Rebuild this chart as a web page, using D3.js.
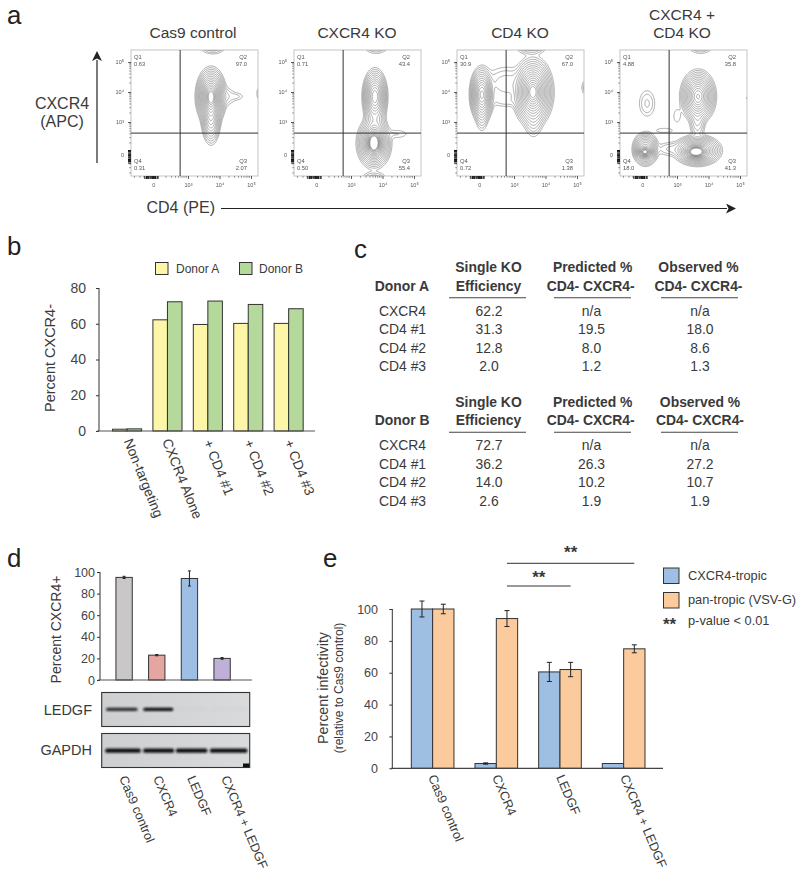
<!DOCTYPE html>
<html><head><meta charset="utf-8">
<script src="https://cdn.jsdelivr.net/npm/d3@7"></script>
<style>
html,body{margin:0;padding:0;background:#fff}
svg{display:block;font-family:"Liberation Sans",Arial,sans-serif}
text{fill:#3a3a3a}
.domain{display:none}
</style></head><body>
<svg id="c" width="800" height="877"></svg>
<script>
// ---------- Panel a: flow cytometry (positions in log-decade display units) ----------
const flowTitles = [["Cas9 control"], ["CXCR4 KO"], ["CD4 KO"], ["CXCR4 +", "CD4 KO"]];
const flowQ1 = ["0.63", "0.71", "30.9", "4.88"];
const flowQ2 = ["97.0", "43.4", "67.0", "35.8"];
const flowQ3 = ["2.07", "55.4", "1.38", "41.3"];
const flowQ4 = ["0.31", "0.50", "0.72", "18.0"];
const flowTickU = [1.9, 3, 4, 5];
const flowTickLabels = ["0", "10³", "10⁴", "10⁵"];
const gateU = [2.75, 2.63];
const rugU = [1.63, 1.68, 1.72, 1.75, 1.8, 1.83, 1.87, 1.9, 1.93, 1.97, 2.02, 2.05];
// each population: [x, y, spreadX, spreadY, height]
const popsCas9 = [[3.73,3.85,.15,.3,1],[3.73,3.2,.11,.33,.25],[4.15,3.85,.2,.17,.012],[4.55,3.85,.14,.08,.006],[3.79,5.5,.2,.12,.02],[5.27,3.95,.06,.15,.008]];
const popsCxcr4 = [[3.73,2.3,.11,.2,1],[3.73,2.3,.18,.28,.5],[3.76,3.85,.13,.3,.55],[3.76,3.0,.14,.3,.06],[4.45,2.6,.25,.1,.006],[3.73,1.15,.2,.1,.015],[3.8,5.5,.2,.12,.015]];
const popsCd4 = [[1.98,3.92,.125,.3,.6],[1.98,3.4,.09,.3,.04],[3.6,4.0,.2,.36,1],[3.62,3.2,.13,.3,.04],[2.75,4.28,.36,.3,.016],[2.75,3.7,.32,.12,.007],[3.55,5.5,.22,.12,.03],[2.1,5.52,.1,.08,.006],[5.25,4.15,.07,.15,.008]];
const popsDouble = [[3.6,2.0,.16,.1,1],[3.65,2.05,.25,.17,.5],[3.67,3.85,.18,.28,.7],[3.65,3.1,.11,.3,.04],[1.98,2.0,.1,.08,.75],[2.0,2.1,.14,.19,.35],[2.05,3.62,.147,.256,.012],[2.8,2.1,.25,.13,.012],[2.6,2.72,.25,.07,.005],[3.75,5.5,.2,.12,.015],[5.25,3.8,.03,.05,.008],[3.0,3.2,.1,.2,.005]];
const flowPops = [popsCas9, popsCxcr4, popsCd4, popsDouble];

// ---------- Panel b ----------
const bCats = ["Non-targeting", "CXCR4 Alone", "+ CD4 #1", "+ CD4 #2", "+ CD4 #3"];
const bDonorA = [1, 62.2, 59.6, 60.2, 60.2];
const bDonorB = [1.2, 72.3, 72.7, 70.8, 68.4];
const bTicks = [0, 20, 40, 60, 80];

// ---------- Panel c ----------
const cRowNames = ["CXCR4", "CD4 #1", "CD4 #2", "CD4 #3"];
const cAKo = ["62.2", "31.3", "12.8", "2.0"];
const cAPred = ["n/a", "19.5", "8.0", "1.2"];
const cAObs = ["n/a", "18.0", "8.6", "1.3"];
const cBKo = ["72.7", "36.2", "14.0", "2.6"];
const cBPred = ["n/a", "26.3", "10.2", "1.9"];
const cBObs = ["n/a", "27.2", "10.7", "1.9"];

// ---------- Panel d ----------
const dCats = ["Cas9 control", "CXCR4", "LEDGF", "CXCR4 + LEDGF"];
const dVals = [95, 23, 94, 20];
const dErr = [1, 0.6, 7, 0.8];
const dTicks = [0, 20, 40, 60, 80, 100];
const ledgfBand = [0.85, 1, 0.02, 0.02];
const gapdhBand = [1, 1, 1, 1];

// ---------- Panel e ----------
const eCats = ["Cas9 control", "CXCR4", "LEDGF", "CXCR4 + LEDGF"];
const eBlue = [100, 3, 60.5, 3];
const eOrange = [100, 94, 62, 75];
const eBlueErr = [5, 0.4, 6, 0];
const eOrangeErr = [3, 5, 4.5, 2.5];
const eTicks = [0, 20, 40, 60, 80, 100];

const svg = d3.select("#c");
const defs = svg.append("defs");
defs.append("filter").attr("id","soft").append("feGaussianBlur").attr("stdDeviation",0.3);
defs.append("filter").attr("id","bandBlur").attr("x","-10%").attr("y","-100%").attr("width","120%").attr("height","300%").append("feGaussianBlur").attr("stdDeviation",0.8);
const blotGrad = defs.append("linearGradient").attr("id","blot").attr("x1",0).attr("x2",1);
blotGrad.append("stop").attr("offset",0).attr("stop-color","#cdcfd1");
blotGrad.append("stop").attr("offset",1).attr("stop-color","#d9dadc");
const mk = defs.append("marker").attr("id","head").attr("viewBox","0 0 10 10").attr("refX",1).attr("refY",5)
  .attr("markerWidth",10).attr("markerHeight",10).attr("markerUnits","userSpaceOnUse").attr("orient","auto");
mk.append("path").attr("d","M0,0L10,5L0,10L2.5,5Z").attr("fill","#222");

function label(t,x,y,size,o={}){
  const e=svg.append("text").attr("x",x).attr("y",y).attr("font-size",size).text(t)
    .attr("text-anchor",o.anchor||"start");
  if(o.bold) e.attr("font-weight","bold");
  if(o.rot!==undefined) e.attr("transform",`rotate(${o.rot} ${x} ${y})`);
  if(o.fill) e.style("fill",o.fill);
  return e;
}
// panel letters
[["a",7,23.5],["b",7,255],["c",354,258],["d",7,567],["e",323,567]].forEach(d=>label(d[0],d[1],d[2],25.8,{fill:"#222"}));

// ---------- draw panel a ----------
const flowLefts=[131,294,457,620], flowTop=50, fw=127, fh=126;
const ux=d3.scaleLinear().domain([3,5]).range([57,120]);
const uy=d3.scaleLinear().domain([3,5]).range([72,12]);
// contour levels evenly spaced in radius of a population, so rings sit at an even pitch
const N=16, levels=d3.range(N).map(k=>{const r=3.4-k*(2.9/(N-1));return Math.exp(-.5*r*r);});
const minorU=[];[1,2,3,4].forEach(dec=>{ [2,3,4,5,6,7,8,9].forEach(m=>minorU.push(dec+Math.log10(m)));});
flowPops.forEach((pops,i)=>{
  const g=svg.append("g").attr("transform",`translate(${flowLefts[i]},${flowTop})`).attr("filter","url(#soft)");
  const cp="fp"+i;
  defs.append("clipPath").attr("id",cp).append("rect").attr("width",fw).attr("height",fh);
  const scale=2, nx=fw*scale, ny=fh*scale, field=new Float64Array(nx*ny);
  for(let r=0;r<ny;r++)for(let c=0;c<nx;c++){
    const u=ux.invert((c+.5)/scale), v=uy.invert((r+.5)/scale); let s=0;
    pops.forEach(p=>{const a=(u-p[0])/p[2],b=(v-p[1])/p[3]; s+=p[4]*Math.exp(-.5*(a*a+b*b));});
    field[r*nx+c]=s;
  }
  const cs=d3.contours().size([nx,ny]).thresholds(levels)(field);
  const path=d3.geoPath(d3.geoIdentity().scale(1/scale));
  g.append("g").attr("clip-path",`url(#${cp})`).selectAll("path").data(cs).join("path")
    .attr("d",path).attr("fill","none").attr("stroke","#5c5c5c").attr("stroke-width",0.5);
  g.append("rect").attr("width",fw).attr("height",fh).attr("fill","none").attr("stroke","#c4c4c4").attr("stroke-width",1);
  g.append("line").attr("x1",ux(gateU[0])).attr("x2",ux(gateU[0])).attr("y1",0).attr("y2",fh).attr("stroke","#333").attr("stroke-width",1);
  g.append("line").attr("x1",0).attr("x2",fw).attr("y1",uy(gateU[1])).attr("y2",uy(gateU[1])).attr("stroke","#333").attr("stroke-width",1);
  // axes
  const xa=g.append("g").attr("transform",`translate(0,${fh})`).call(d3.axisBottom(ux).tickValues(flowTickU).tickFormat((d,j)=>flowTickLabels[j]).tickSize(3).tickPadding(4));
  const ya=g.append("g").call(d3.axisLeft(uy).tickValues(flowTickU).tickFormat((d,j)=>flowTickLabels[j]).tickSize(3).tickPadding(4));
  [xa,ya].forEach(a=>{a.selectAll("text").attr("font-size",5.5).style("fill","#555").attr("font-family","Liberation Sans");a.selectAll("line").attr("stroke","#333").attr("stroke-width",.8);});
  const mx=minorU.filter(u=>ux(u)>=0&&ux(u)<=fw), my=minorU.filter(u=>uy(u)>=0&&uy(u)<=fh);
  g.selectAll(".mx").data(mx).join("line").attr("x1",d=>ux(d)).attr("x2",d=>ux(d)).attr("y1",fh).attr("y2",fh+1.8).attr("stroke","#555").attr("stroke-width",.6);
  g.selectAll(".my").data(my).join("line").attr("y1",d=>uy(d)).attr("y2",d=>uy(d)).attr("x1",-1.8).attr("x2",0).attr("stroke","#555").attr("stroke-width",.6);
  g.selectAll(".rx").data(rugU).join("line").attr("x1",d=>ux(d)).attr("x2",d=>ux(d)).attr("y1",fh).attr("y2",fh+3).attr("stroke","#111").attr("stroke-width",1);
  g.selectAll(".ry").data(rugU).join("line").attr("y1",d=>uy(d)).attr("y2",d=>uy(d)).attr("x1",-3).attr("x2",0).attr("stroke","#111").attr("stroke-width",1);
  const q=(t,x,y,a)=>g.append("text").attr("x",x).attr("y",y).attr("text-anchor",a).attr("font-size",5.8).style("fill","#555").text(t);
  q("Q1",3,9,"start");q(flowQ1[i],3,16,"start");
  q("Q2",fw-11,9,"end");q(flowQ2[i],fw-11,16,"end");
  q("Q4",3,113,"start");q(flowQ4[i],3,120,"start");
  q("Q3",fw-11,113,"end");q(flowQ3[i],fw-11,120,"end");
  // titles
  const cx=flowLefts[i]+[62,63,63,62][i];
  const t=flowTitles[i];
  t.forEach((s,k)=>label(s,cx,38-(t.length-1-k)*18.5,15.5,{anchor:"middle"}));
});
label("CXCR4",62,109,16,{anchor:"middle"});
label("(APC)",62,127,16,{anchor:"middle"});
svg.append("line").attr("x1",97).attr("x2",97).attr("y1",163).attr("y2",60).attr("stroke","#222").attr("stroke-width",1.2).attr("marker-end","url(#head)");
label("CD4 (PE)",146.5,213,16);
svg.append("line").attr("x1",221).attr("x2",727).attr("y1",208.5).attr("y2",208.5).attr("stroke","#222").attr("stroke-width",1.2).attr("marker-end","url(#head)");

// shared bar axis
function yAxis(y,x,ticks,size,right){
  const a=svg.append("g").attr("transform",`translate(${x},0)`).call(d3.axisLeft(y).tickValues(ticks).tickSize(3).tickPadding(x-3-right));
  a.selectAll("text").attr("font-size",size).attr("font-family","Liberation Sans").style("fill","#444");
  a.selectAll("line").attr("stroke","#333");
  svg.append("line").attr("x1",x).attr("x2",x).attr("y1",y(ticks[0])).attr("y2",y(ticks[ticks.length-1])).attr("stroke","#333");
}

// ---------- panel b ----------
{
  const x=d3.scaleBand().domain(bCats).range([101.2,314.5]).padding(.28);
  const y=d3.scaleLinear().domain([0,80]).range([431,288]);
  yAxis(y,99,bTicks,14,86);
  const bw=x.bandwidth()/2;
  svg.selectAll(".ba").data(bDonorA).join("rect").attr("x",(d,i)=>x(bCats[i])).attr("y",d=>y(d)).attr("width",bw).attr("height",d=>y(0)-y(d)).attr("fill","#fdf6a8").attr("stroke","#333");
  svg.selectAll(".bb").data(bDonorB).join("rect").attr("x",(d,i)=>x(bCats[i])+bw).attr("y",d=>y(d)).attr("width",bw).attr("height",d=>y(0)-y(d)).attr("fill","#b4d99b").attr("stroke","#333");
  svg.append("line").attr("x1",97).attr("x2",315).attr("y1",y(0)).attr("y2",y(0)).attr("stroke","#555").attr("stroke-width",1.2);
  bCats.forEach((c,i)=>label(c,x(c)+[11,9,10,10,10][i],[441,441,442,442,442][i],13.8,{rot:68}));
  label("Percent CXCR4-",55,358,14.5,{rot:-90,anchor:"middle"});
  svg.append("rect").attr("x",155.5).attr("y",262.5).attr("width",12.5).attr("height",12).attr("fill","#fdf6a8").attr("stroke","#333");
  label("Donor A",176,272.5,12);
  svg.append("rect").attr("x",239.5).attr("y",262.5).attr("width",12.5).attr("height",12).attr("fill","#b4d99b").attr("stroke","#333");
  label("Donor B",259,272.5,12);
}

// ---------- panel c ----------
function table(top,donor,ko,pred,obs,obsHeadX){
  const fs=13.9;
  label("Single KO",488.5,top,fs,{anchor:"middle",bold:true});
  label("Efficiency",488.5,top+18.5,fs,{anchor:"middle",bold:true});
  label("Predicted %",592.7,top,fs,{anchor:"middle",bold:true});
  label("CD4- CXCR4-",590.7,top+18.5,fs,{anchor:"middle",bold:true});
  label("Observed %",obsHeadX,top,fs,{anchor:"middle",bold:true});
  label("CD4- CXCR4-",obsHeadX,top+18.5,fs,{anchor:"middle",bold:true});
  label(donor,374.7,top+18.5,fs,{bold:true});
  [[449,526],[554,631],[661,738]].forEach(r=>svg.append("line").attr("x1",r[0]).attr("x2",r[1]).attr("y1",top+25.7).attr("y2",top+25.7).attr("stroke","#444").attr("stroke-width",1.1));
  cRowNames.forEach((n,i)=>{
    const yy=top+43.7+i*18.45;
    label(n,379,yy,13.9);
    label(ko[i],489,yy,13.9,{anchor:"middle"});
    label(pred[i],591.5,yy,13.9,{anchor:"middle"});
    label(obs[i],700,yy,13.9,{anchor:"middle"});
  });
}
table(272,"Donor A",cAKo,cAPred,cAObs,698.5);
table(406.5,"Donor B",cBKo,cBPred,cBObs,700);

// ---------- panel d ----------
{
  const x=d3.scaleBand().domain(dCats).range([99.6,246.6]).padding(.5);
  const y=d3.scaleLinear().domain([0,100]).range([680,572]);
  yAxis(y,100,dTicks,12.5,95);
  svg.selectAll(".db").data(dVals).join("rect").attr("x",(d,i)=>x(dCats[i])).attr("y",d=>y(d)).attr("width",x.bandwidth()).attr("height",d=>y(0)-y(d))
    .attr("fill",(d,i)=>["#c9c7c7","#e5a6a2","#9ebee4","#c0afd7"][i]).attr("stroke","#333");
  const cx=i=>x(dCats[i])+x.bandwidth()/2;
  dVals.forEach((v,i)=>{
    const e=dErr[i];
    svg.append("path").attr("d",`M${cx(i)-1.5},${y(v+e)}h3M${cx(i)},${y(v+e)}V${y(v-e)}M${cx(i)-1.5},${y(v-e)}h3`).attr("stroke","#222").attr("fill","none");
  });
  svg.append("line").attr("x1",98).attr("x2",252).attr("y1",y(0)).attr("y2",y(0)).attr("stroke","#555").attr("stroke-width",1.2);
  label("Percent CXCR4+",61,629.5,14,{rot:-90,anchor:"middle"});
  // blots
  const blots=[[692.5,34,ledgfBand,"LEDGF",709.3,[106,143.3,176,210],[31.5,30,31,37],715,3.2],[733.5,34,gapdhBand,"GAPDH",750.7,[105.3,143.3,176,210],[35.4,30.7,31.3,37.3],755,4.2]];
  blots.forEach(b=>{
    svg.append("rect").attr("x",101.7).attr("y",b[0]).attr("width",148).attr("height",b[1]).attr("fill","url(#blot)").attr("stroke","#333").attr("stroke-width",1.1);
    const g=svg.append("g").attr("filter","url(#bandBlur)");
    g.selectAll("rect").data(b[2]).join("rect").attr("x",(d,i)=>b[5][i]).attr("width",(d,i)=>b[6][i]).attr("y",b[4]-b[8]/2).attr("height",b[8]).attr("rx",1.5).attr("fill","#111").attr("opacity",d=>d);
    label(b[3],92,b[7],14.5,{anchor:"end"});
  });
  svg.append("rect").attr("x",243).attr("y",763.5).attr("width",6.5).attr("height",3.5).attr("fill","#111");
  const lx=d3.scalePoint().domain(dCats).range([119,221]);
  dCats.forEach(c=>label(c,lx(c),778,12.7,{rot:67}));
}

// ---------- panel e ----------
{
  const x=d3.scaleBand().domain(eCats).range([390.3,666]).padding(.33);
  const y=d3.scaleLinear().domain([0,100]).range([768.3,609]);
  yAxis(y,392.3,eTicks,12.5,378);
  const bw=x.bandwidth()/2;
  const bar=(vals,errs,off,col)=>{
    svg.selectAll(".eb"+off).data(vals).join("rect").attr("x",(d,i)=>x(eCats[i])+off*bw).attr("y",d=>y(d)).attr("width",bw).attr("height",d=>y(0)-y(d)).attr("fill",col).attr("stroke","#333");
    vals.forEach((v,i)=>{
      const e=errs[i]; if(!e) return;
      const c=x(eCats[i])+off*bw+bw/2;
      svg.append("path").attr("d",`M${c-2.5},${y(v+e)}h5M${c},${y(v+e)}V${y(v-e)}M${c-2.5},${y(v-e)}h5`).attr("stroke","#222").attr("fill","none");
    });
  };
  bar(eBlue,eBlueErr,0,"#9ebee2");
  bar(eOrange,eOrangeErr,1,"#fbcb9d");
  svg.append("line").attr("x1",391).attr("x2",663).attr("y1",y(0)).attr("y2",y(0)).attr("stroke","#444").attr("stroke-width",1.2);
  const oc=i=>x(eCats[i])+1.5*bw;
  svg.append("line").attr("x1",oc(1)).attr("x2",oc(3)).attr("y1",563.3).attr("y2",563.3).attr("stroke","#333");
  svg.append("line").attr("x1",oc(1)).attr("x2",oc(2)).attr("y1",586).attr("y2",586).attr("stroke","#333");
  label("**",(oc(1)+oc(3))/2,558,17,{anchor:"middle",bold:true});
  label("**",(oc(1)+oc(2))/2,583,17,{anchor:"middle",bold:true});
  label("Percent infectivity",328,688,14.3,{rot:-90,anchor:"middle"});
  label("(relative to Cas9 control)",343,688,12,{rot:-90,anchor:"middle"});
  const lx=d3.scalePoint().domain(eCats).range([428,620]);
  eCats.forEach(c=>label(c,lx(c),777,12.7,{rot:67}));
  svg.append("rect").attr("x",663.5).attr("y",568).attr("width",15.5).attr("height",15.5).attr("fill","#9ebee2").attr("stroke","#333");
  label("CXCR4-tropic",688,580,12.8);
  svg.append("rect").attr("x",663.5).attr("y",592.5).attr("width",15.5).attr("height",15.5).attr("fill","#fbcb9d").attr("stroke","#333");
  label("pan-tropic (VSV-G)",688,604,12.8);
  label("**",663,630,17,{bold:true});
  label("p-value < 0.01",688,625.3,12.8);
}
</script></body></html>
